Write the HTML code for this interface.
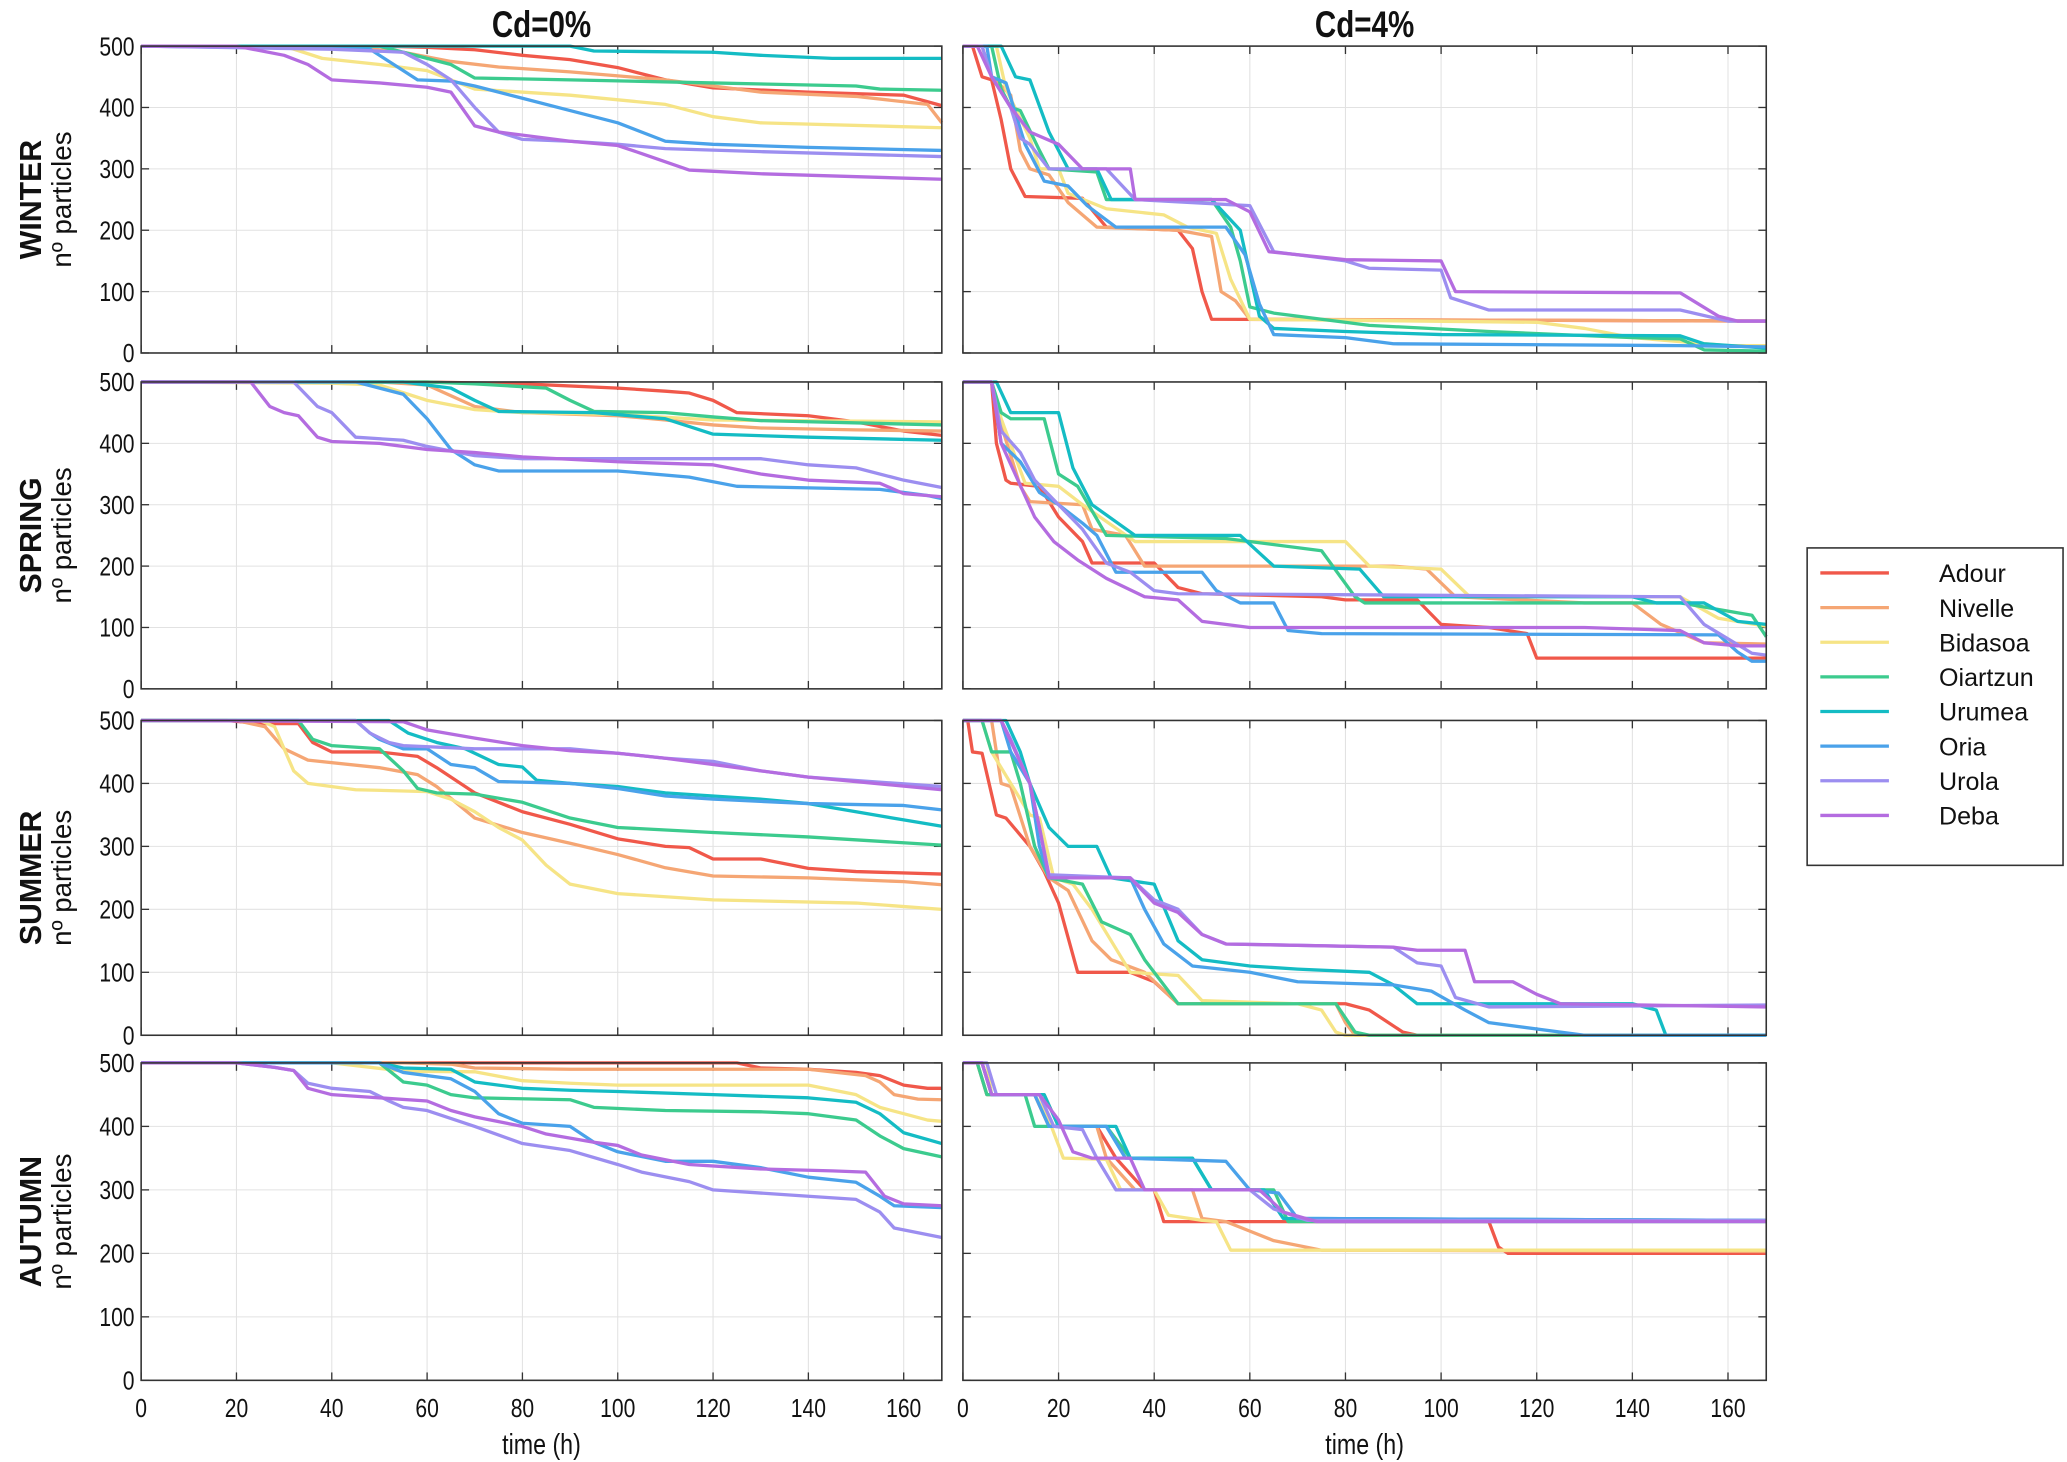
<!DOCTYPE html>
<html><head><meta charset="utf-8"><style>
html,body{margin:0;padding:0;background:#fff}
svg{display:block}
text{font-family:"Liberation Sans",sans-serif;fill:#111}
</style></head><body>
<svg id="chart" width="2067" height="1462" viewBox="0 0 1567 1110" preserveAspectRatio="none" xmlns="http://www.w3.org/2000/svg"></svg>
<script>
const seriesNames = ["Adour","Nivelle","Bidasoa","Oiartzun","Urumea","Oria","Urola","Deba"];
const seriesColors = ["#f0584a","#f5a674","#f6e486","#3ccb8e","#14bcc4","#4aa2ea","#9c8ef0","#b46ce0"];
const seasons = ["WINTER","SPRING","SUMMER","AUTUMN"];
const columnTitles = ["Cd=0%","Cd=4%"];
const xTicks = [0,20,40,60,80,100,120,140,160];
const yTicks = [0,100,200,300,400,500];

const winterCd0 = [
[[0,500],[50,500],[60,498],[70,494],[80,485],[90,478],[100,465],[110,445],[120,432],[140,425],[160,420],[168,403]],
[[0,500],[45,498],[55,490],[65,475],[75,466],[90,458],[110,445],[130,425],[150,418],[165,405],[168,375]],
[[0,500],[30,500],[38,480],[50,470],[60,460],[70,430],[90,420],[110,405],[120,385],[130,375],[168,367]],
[[0,500],[50,500],[60,480],[65,470],[70,448],[90,445],[120,440],[150,435],[155,430],[168,428]],
[[0,500],[90,500],[95,492],[120,490],[130,485],[145,480],[168,480]],
[[0,500],[48,495],[55,460],[58,445],[65,443],[70,435],[80,415],[90,395],[100,375],[110,345],[120,340],[140,335],[168,330]],
[[0,500],[40,495],[55,490],[60,470],[65,445],[70,400],[75,360],[80,348],[90,345],[100,340],[110,333],[130,328],[168,320]],
[[0,500],[20,500],[30,485],[35,470],[40,445],[50,440],[60,433],[65,425],[70,370],[75,360],[90,345],[100,338],[105,325],[115,298],[130,292],[168,283]]];
const winterCd4 = [
[[0,500],[2,500],[4,450],[6,445],[8,380],[10,300],[13,255],[25,252],[30,205],[45,200],[48,170],[50,100],[52,55],[168,52]],
[[0,500],[4,500],[6,450],[10,420],[12,330],[14,300],[18,290],[22,245],[28,205],[45,200],[52,190],[54,100],[57,85],[60,55],[168,52]],
[[0,500],[7,500],[9,430],[14,350],[16,300],[20,300],[22,260],[30,235],[42,225],[47,205],[53,195],[56,120],[60,55],[120,50],[130,40],[140,25],[160,12],[168,12]],
[[0,500],[6,500],[8,430],[10,400],[12,395],[16,330],[18,300],[28,295],[30,250],[52,250],[56,205],[58,150],[60,75],[65,65],[75,55],[85,45],[110,35],[140,25],[150,23],[155,5],[168,3]],
[[0,500],[8,500],[11,450],[14,445],[18,360],[22,300],[28,300],[31,250],[52,250],[58,200],[62,60],[65,40],[80,35],[100,30],[150,28],[155,15],[168,8]],
[[0,500],[5,500],[6,450],[9,440],[13,340],[17,280],[22,272],[26,240],[32,205],[55,205],[59,160],[62,80],[65,30],[80,25],[90,15],[150,12],[168,10]],
[[0,500],[4,500],[6,450],[10,400],[12,350],[14,340],[18,300],[30,300],[36,250],[60,240],[65,165],[80,150],[85,138],[100,135],[102,90],[108,75],[110,70],[150,70],[160,52],[168,52]],
[[0,500],[3,500],[6,450],[10,400],[14,360],[20,340],[25,300],[35,300],[36,250],[55,250],[60,230],[64,165],[80,152],[100,150],[103,100],[150,98],[158,60],[162,52],[168,52]]];
const springCd0 = [
[[0,500],[60,500],[80,497],[100,490],[110,485],[115,482],[120,470],[125,450],[140,445],[150,435],[160,420],[168,413]],
[[0,500],[50,500],[60,495],[70,460],[80,450],[100,445],[110,438],[120,430],[130,425],[150,422],[168,420]],
[[0,500],[40,498],[50,495],[60,470],[70,455],[80,450],[100,447],[120,438],[168,435]],
[[0,500],[60,500],[70,497],[85,490],[90,470],[95,452],[110,450],[120,443],[130,437],[168,430]],
[[0,500],[55,500],[65,490],[70,470],[75,452],[95,450],[110,440],[120,415],[140,410],[168,405]],
[[0,500],[45,500],[55,480],[60,440],[65,390],[70,365],[75,355],[100,355],[115,345],[125,330],[155,325],[165,315],[168,310]],
[[0,500],[32,500],[37,460],[40,450],[45,410],[55,405],[60,395],[70,380],[80,375],[130,375],[140,365],[150,360],[160,340],[168,328]],
[[0,500],[23,500],[27,460],[30,450],[33,445],[37,410],[40,403],[50,400],[60,390],[70,385],[80,378],[100,370],[120,365],[130,350],[140,340],[155,335],[160,318],[168,313]]];
const springCd4 = [
[[0,500],[6,500],[7,400],[9,340],[10,335],[16,330],[20,280],[25,240],[27,205],[40,205],[45,165],[50,155],[75,150],[80,145],[95,145],[100,105],[110,100],[118,90],[120,50],[168,50]],
[[0,500],[6,500],[8,430],[12,330],[14,305],[25,300],[27,260],[34,250],[38,200],[90,200],[97,195],[103,150],[130,140],[140,140],[146,105],[155,75],[168,73]],
[[0,500],[6,500],[8,440],[13,335],[20,330],[25,300],[36,240],[80,240],[85,200],[100,195],[106,150],[150,150],[158,115],[168,102]],
[[0,500],[6,500],[8,450],[10,440],[17,440],[20,350],[24,330],[30,250],[55,245],[75,225],[82,150],[84,140],[150,140],[165,120],[168,85]],
[[0,500],[7,500],[10,450],[20,450],[23,360],[27,300],[36,250],[58,250],[65,200],[83,195],[88,150],[140,150],[145,140],[155,140],[162,110],[168,105]],
[[0,500],[6,500],[8,400],[12,370],[16,320],[20,300],[25,270],[28,250],[32,190],[50,190],[53,160],[58,140],[65,140],[68,95],[75,90],[158,88],[162,60],[165,45],[168,45]],
[[0,500],[6,500],[8,420],[12,385],[15,340],[20,300],[25,260],[30,205],[35,190],[40,160],[45,155],[150,150],[155,105],[165,58],[168,55]],
[[0,500],[6,500],[8,400],[15,280],[19,240],[24,210],[30,180],[38,150],[45,145],[50,110],[60,100],[130,100],[150,95],[155,75],[162,70],[168,70]]];
const summerCd0 = [
[[0,500],[18,500],[25,495],[33,495],[36,465],[40,450],[50,450],[58,443],[62,425],[70,385],[80,355],[90,335],[100,312],[110,300],[115,298],[120,280],[130,280],[140,265],[150,260],[168,256]],
[[0,500],[20,500],[26,490],[30,455],[35,437],[50,425],[58,414],[62,395],[70,345],[80,322],[90,305],[100,287],[110,266],[120,253],[140,250],[160,244],[168,239]],
[[0,500],[25,500],[28,490],[32,420],[35,400],[45,390],[60,387],[65,375],[70,355],[75,330],[80,310],[85,270],[90,240],[100,225],[120,215],[150,210],[168,200]],
[[0,500],[33,500],[36,470],[40,460],[50,455],[55,420],[58,392],[62,385],[70,383],[80,370],[90,345],[100,330],[120,322],[140,315],[168,302]],
[[0,500],[52,500],[56,480],[62,465],[68,455],[75,430],[80,426],[83,405],[90,400],[100,395],[110,385],[120,380],[130,375],[140,368],[150,355],[160,342],[168,332]],
[[0,500],[45,500],[48,480],[50,470],[55,455],[60,455],[65,430],[70,425],[75,403],[90,400],[100,392],[110,380],[120,375],[140,368],[160,365],[168,358]],
[[0,500],[45,500],[48,480],[52,465],[55,460],[70,455],[90,455],[100,448],[110,440],[120,435],[130,420],[140,410],[168,395]],
[[0,500],[55,498],[60,485],[70,472],[80,460],[90,452],[100,448],[110,440],[120,430],[130,420],[140,410],[168,390]]];
const summerCd4 = [
[[0,500],[1,500],[2,450],[4,448],[7,350],[9,345],[14,300],[17,260],[20,210],[24,100],[35,100],[40,85],[45,50],[80,50],[85,40],[92,5],[95,0],[168,0]],
[[0,500],[6,500],[8,400],[10,395],[14,300],[18,250],[22,230],[27,150],[31,120],[38,100],[45,50],[78,50],[80,20],[82,0],[168,0]],
[[0,500],[4,500],[6,450],[10,400],[14,350],[16,345],[19,250],[23,240],[27,200],[31,150],[35,100],[45,95],[50,55],[70,50],[75,40],[78,5],[80,0],[168,0]],
[[0,500],[4,500],[6,450],[10,450],[12,400],[15,300],[18,250],[25,240],[29,180],[35,160],[38,120],[45,50],[78,50],[82,5],[85,0],[168,0]],
[[0,500],[9,500],[12,450],[14,400],[18,330],[22,300],[28,300],[31,250],[40,240],[45,150],[50,120],[60,110],[70,105],[85,100],[90,80],[95,50],[140,50],[145,40],[147,0],[168,0]],
[[0,500],[8,500],[10,450],[14,400],[16,300],[18,250],[35,250],[38,200],[42,145],[48,110],[60,100],[70,85],[90,80],[98,70],[105,40],[110,20],[125,5],[130,0],[168,0]],
[[0,500],[8,500],[10,470],[14,400],[16,330],[18,255],[35,250],[40,215],[45,200],[50,160],[55,145],[90,140],[95,115],[100,110],[103,60],[110,45],[168,48]],
[[0,500],[8,500],[11,450],[14,400],[16,330],[18,250],[35,250],[40,210],[45,195],[50,160],[55,145],[90,140],[95,135],[105,135],[107,85],[115,85],[120,65],[125,50],[168,45]]];
const autumnCd0 = [
[[0,500],[125,500],[130,492],[140,490],[150,485],[155,480],[160,465],[165,460],[168,460]],
[[0,500],[55,500],[65,498],[70,492],[90,490],[140,490],[152,480],[155,470],[158,450],[163,443],[168,442]],
[[0,500],[40,500],[55,487],[70,486],[80,472],[90,468],[100,465],[140,465],[150,450],[155,430],[160,420],[165,410],[168,408]],
[[0,500],[50,500],[55,470],[60,465],[65,450],[70,445],[90,442],[95,430],[110,425],[130,423],[140,420],[150,410],[155,385],[160,365],[168,352]],
[[0,500],[50,500],[55,492],[65,490],[70,470],[80,460],[90,457],[100,455],[120,450],[140,445],[150,438],[155,420],[160,390],[168,373]],
[[0,500],[50,500],[55,485],[65,475],[70,455],[75,420],[80,405],[90,400],[95,375],[100,360],[110,345],[120,345],[130,335],[140,320],[150,312],[155,290],[158,275],[168,272]],
[[0,500],[20,500],[28,493],[32,488],[35,468],[40,460],[48,455],[52,440],[55,430],[60,425],[70,400],[80,373],[90,362],[100,340],[105,328],[115,313],[120,300],[130,295],[140,290],[150,285],[155,265],[158,240],[168,225]],
[[0,500],[20,500],[28,493],[32,488],[35,460],[40,450],[50,445],[60,440],[65,425],[70,415],[80,400],[85,388],[95,375],[100,370],[105,355],[115,340],[130,333],[145,330],[152,328],[156,290],[160,278],[168,275]]];
const autumnCd4 = [
[[0,500],[3,500],[5,450],[15,450],[18,400],[28,400],[32,350],[38,300],[40,300],[42,250],[110,250],[112,210],[114,200],[168,200]],
[[0,500],[4,500],[6,450],[17,450],[20,400],[28,400],[30,350],[36,300],[48,300],[50,255],[55,250],[60,235],[65,220],[75,205],[168,203]],
[[0,500],[5,500],[6,450],[15,450],[18,410],[21,350],[30,348],[33,300],[40,300],[43,260],[50,252],[53,250],[56,205],[168,205]],
[[0,500],[3,500],[5,450],[13,450],[15,400],[30,400],[35,350],[48,350],[52,300],[65,300],[68,250],[168,250]],
[[0,500],[4,500],[6,450],[17,450],[20,400],[32,400],[35,350],[48,350],[52,300],[63,300],[67,255],[168,252]],
[[0,500],[4,500],[6,450],[15,450],[18,400],[30,400],[34,350],[55,345],[60,300],[66,295],[70,255],[168,252]],
[[0,500],[5,500],[7,450],[16,450],[19,400],[25,395],[28,350],[32,300],[60,300],[65,270],[72,252],[168,252]],
[[0,500],[4,500],[6,450],[16,450],[20,410],[23,360],[27,350],[35,350],[38,300],[62,300],[67,265],[74,250],[168,250]]];

const panelData = [[winterCd0,winterCd4],[springCd0,springCd4],[summerCd0,summerCd4],[autumnCd0,autumnCd4]];

const NS = "http://www.w3.org/2000/svg";
const svg = document.getElementById("chart");
function mk(tag, attrs, parent){
  const e = document.createElementNS(NS, tag);
  for (const k in attrs) e.setAttribute(k, attrs[k]);
  (parent||svg).appendChild(e);
  return e;
}
function ctext(parent, x, y, anchor, size, str, weight){
  const t = mk("text",{x:0,y:0,transform:`translate(${x},${y}) scale(0.8,1)`,"text-anchor":anchor,"font-size":size,"font-weight":weight||"normal"},parent);
  t.textContent = str;
  return t;
}
const colX = [[107,714],[730,1339]];
const rowY = [[35,268],[290,523],[547,786],[807,1048]];
const XMAX = 168, YMAX = 500;

for (let r=0;r<4;r++){
  for (let c=0;c<2;c++){
    const [x0,x1]=colX[c], [y0,y1]=rowY[r];
    const sx = t => x0 + (t/XMAX)*(x1-x0);
    const sy = v => y1 - (v/YMAX)*(y1-y0);
    const g = mk("g",{});
    
    
    mk("rect",{x:x0,y:y0,width:x1-x0,height:y1-y0,fill:"#fff"},g);
    xTicks.forEach(t=>{
      const gl = mk("line",{x1:sx(t),x2:sx(t),y1:y0,y2:y1,stroke:"#e2e2e2","stroke-width":0.8},g);
      
      
      mk("line",{x1:sx(t),x2:sx(t),y1:y1,y2:y1-6,stroke:"#333","stroke-width":1},g);
      mk("line",{x1:sx(t),x2:sx(t),y1:y0,y2:y0+6,stroke:"#333","stroke-width":1},g);
      if (r===3){
        const tl = ctext(g, sx(t), 1076, "middle", 20, String(t));
        
        
      }
    });
    yTicks.forEach(v=>{
      const gl = mk("line",{x1:x0,x2:x1,y1:sy(v),y2:sy(v),stroke:"#e2e2e2","stroke-width":0.8},g);
      
      
      mk("line",{x1:x0,x2:x0+6,y1:sy(v),y2:sy(v),stroke:"#333","stroke-width":1},g);
      mk("line",{x1:x1,x2:x1-6,y1:sy(v),y2:sy(v),stroke:"#333","stroke-width":1},g);
      if (c===0){
        const tl = ctext(g, x0-5, sy(v)+7, "end", 20, String(v));
        
        
      }
    });
    const series = panelData[r][c];
    series.forEach((pts,i)=>{
      const d = pts.map((p,j)=>(j?"L":"M")+sx(p[0]).toFixed(2)+","+sy(p[1]).toFixed(2)).join(" ");
      const path = mk("path",{d:d,fill:"none",stroke:seriesColors[i],"stroke-width":2.5,"stroke-linejoin":"round"},g);
      
      
    });
    const box = mk("rect",{x:x0,y:y0,width:x1-x0,height:y1-y0,fill:"none",stroke:"#333","stroke-width":1.2},g);
    
    
  }
  const cy = (rowY[r][0]+rowY[r][1])/2;
  const sl = mk("text",{x:0,y:0,transform:`translate(31,${cy}) rotate(-90)`,"text-anchor":"middle","font-size":23,"font-weight":"bold"});
  sl.textContent = seasons[r];
  
  
  const yl = mk("text",{x:0,y:0,transform:`translate(54,${cy}) rotate(-90)`,"text-anchor":"middle","font-size":21});
  yl.textContent = "nº particles";
  
  
}
columnTitles.forEach((t,c)=>{
  const el = ctext(svg, (colX[c][0]+colX[c][1])/2, 28, "middle", 28, t, "bold");
  
  
  const xl = ctext(svg, (colX[c][0]+colX[c][1])/2, 1104, "middle", 22, "time (h)");
  
  
});
const leg = mk("g",{});


mk("rect",{x:1370,y:416,width:194,height:241,fill:"#fff",stroke:"#333","stroke-width":1.2},leg);
seriesNames.forEach((n,i)=>{
  const y = 435 + i*26.3;
  const e = mk("g",{},leg);
  
  
  mk("line",{x1:1380,x2:1432,y1:y,y2:y,stroke:seriesColors[i],"stroke-width":2.5},e);
  const t = mk("text",{x:1470,y:y+7,"font-size":19},e);
  t.textContent = n;
});
</script>
</body></html>
